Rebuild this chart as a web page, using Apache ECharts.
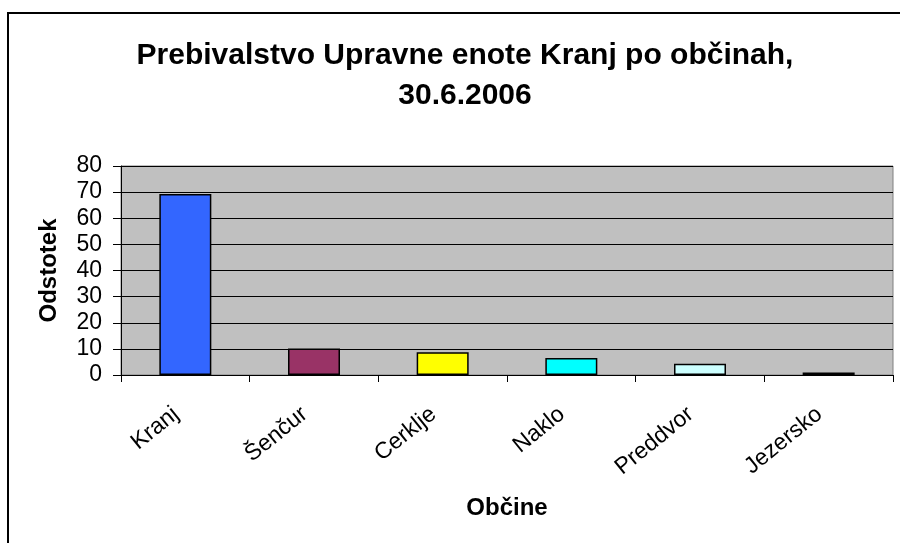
<!DOCTYPE html>
<html>
<head>
<meta charset="utf-8">
<script src="https://cdn.jsdelivr.net/npm/echarts@6/dist/echarts.min.js"></script>
<style>
  html, body { margin: 0; padding: 0; background: #fff; }
  #chart { width: 900px; height: 543px; }
</style>
</head>
<body>
<div id="chart"></div>
<script>
// občine in odstotki (ocenjeno s slike)
const categories = ["Kranj", "Šenčur", "Cerklje", "Naklo", "Preddvor", "Jezersko"];
const values = [69.3, 10.1, 8.7, 6.5, 4.3, 1.0];
const barColors = ["#3366FF", "#993366", "#FFFF00", "#00FFFF", "#CCFFFF", "#660066"];

const chart = echarts.init(document.getElementById("chart"));
const font = "Liberation Sans, Arial, sans-serif";

const option = {
  animation: false,
  textStyle: { fontFamily: font },
  title: {
    text: "Prebivalstvo Upravne enote Kranj po občinah,\n30.6.2006",
    left: 460,
    textAlign: "center",
    top: 31,
    textStyle: { fontSize: 30, fontWeight: "bold", color: "#000", lineHeight: 40, fontFamily: font }
  },
  graphic: [
    {
      type: "rect",
      shape: { x: 8, y: 13, width: 900, height: 600 },
      style: { fill: "none", stroke: "#000", lineWidth: 2 },
      silent: true,
      z: -1
    }
  ],
  grid: {
    left: 121,
    right: 7,
    top: 166,
    bottom: 168,
    show: true,
    backgroundColor: "#C0C0C0",
    borderColor: "#808080",
    borderWidth: 1
  },
  xAxis: {
    type: "category",
    data: categories,
    name: "Občine",
    nameLocation: "middle",
    nameGap: 121,
    nameTextStyle: { fontSize: 24, fontWeight: "bold", color: "#000", fontFamily: font },
    axisLine: { lineStyle: { color: "#000", width: 1 } },
    axisTick: { show: true, length: 7, lineStyle: { color: "#000" } },
    axisLabel: { rotate: 39, margin: 29, padding: [0, 12, 0, 0], fontSize: 23, color: "#000", fontFamily: font }
  },
  yAxis: {
    type: "value",
    min: 0,
    max: 80,
    interval: 10,
    name: "Odstotek",
    nameLocation: "middle",
    nameGap: 60,
    nameTextStyle: { fontSize: 24, fontWeight: "bold", color: "#000", fontFamily: font },
    axisLine: { show: true, lineStyle: { color: "#000", width: 1 } },
    axisTick: { show: true, length: 8, lineStyle: { color: "#000" } },
    axisLabel: { fontSize: 23, color: "#000", margin: 19, fontFamily: font },
    splitLine: { show: true, lineStyle: { color: "#000", width: 1 } }
  },
  series: [
    {
      type: "bar",
      barWidth: 52,
      data: values.map((v, i) => ({
        value: v,
        itemStyle: { color: barColors[i] }
      })),
      itemStyle: { borderColor: "#000", borderWidth: 1.5 }
    }
  ]
};

chart.setOption(option);
</script>
</body>
</html>
